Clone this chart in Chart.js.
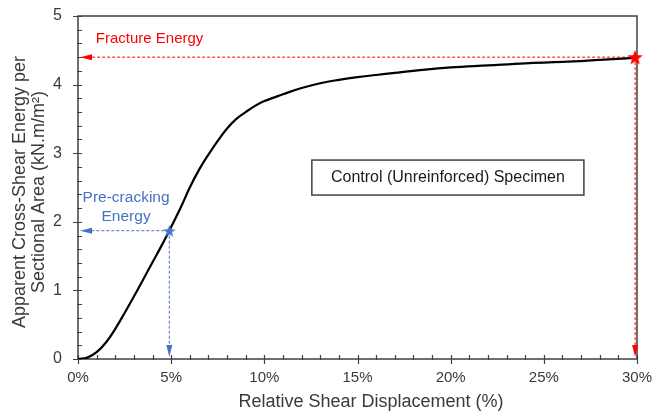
<!DOCTYPE html>
<html>
<head>
<meta charset="utf-8">
<script src="https://cdn.jsdelivr.net/npm/chart.js@4"></script>
<style>
  html, body { margin: 0; padding: 0; background: #fff; }
  canvas { display: block; }
</style>
</head>
<body>
<canvas id="chart" width="654" height="414"></canvas>
<script>
// Relative shear displacement (%) and apparent cross-shear energy (kN.m/m²)
const displacement = [0, 0.5, 1, 1.5, 2, 2.5, 3, 3.5, 4, 4.5, 4.9, 5.5, 6, 6.5, 7, 7.5, 8, 8.5, 9, 9.5, 10, 10.5, 11, 12, 13, 14, 15, 16, 17, 18, 20, 22, 24, 26, 28, 29.9];
const energy = [0, 0.02, 0.1, 0.24, 0.44, 0.67, 0.91, 1.16, 1.41, 1.66, 1.87, 2.2, 2.5, 2.76, 2.98, 3.18, 3.36, 3.5, 3.6, 3.69, 3.76, 3.81, 3.86, 3.95, 4.02, 4.07, 4.11, 4.14, 4.17, 4.2, 4.25, 4.28, 4.31, 4.33, 4.36, 4.39];

// Axis ticks
const xTicks = [0, 5, 10, 15, 20, 25, 30];
const yTicks = [0, 1, 2, 3, 4, 5];
const xMinorStep = 1;
const yMinorStep = 0.2;

// Characteristic energy points
const preCracking = { x: 4.9, y: 1.87 };
const fracture = { x: 29.9, y: 4.4 };

// Text annotations (data units)
const notes = [
  { text: 'Fracture Energy', x: 3.84, y: 4.66, color: '#ff0000', size: 15 },
  { text: 'Pre-cracking', x: 2.58, y: 2.35, color: '#4472c4', size: 15.5 },
  { text: 'Energy', x: 2.58, y: 2.07, color: '#4472c4', size: 15.5 }
];
const specimenLabel = { text: 'Control (Unreinforced) Specimen', x0: 12.55, x1: 27.15, y0: 2.39, y1: 2.9 };

const FONT = '"Liberation Sans", Arial, Helvetica, sans-serif';
const AXIS_COLOR = '#404040';
const TEXT_COLOR = '#3a3a3a';
const RED = '#ff0000';
const BLUE = '#4472c4';

function starSprite(R, color) {
  const s = Math.ceil(R * 2 + 2);
  const c = document.createElement('canvas');
  c.width = c.height = s;
  const g = c.getContext('2d');
  g.translate(s / 2, s / 2 + R * 0.1);
  g.beginPath();
  for (let i = 0; i < 10; i++) {
    const r = i % 2 ? R * 0.42 : R;
    const a = -Math.PI / 2 + i * Math.PI / 5;
    g.lineTo(r * Math.cos(a), r * Math.sin(a));
  }
  g.closePath();
  g.fillStyle = color;
  g.fill();
  return c;
}

function arrowHead(ctx, tipX, tipY, dir, color) {
  const len = 12, half = 3;
  ctx.beginPath();
  if (dir === 'left') {
    ctx.moveTo(tipX, tipY);
    ctx.lineTo(tipX + len, tipY - half);
    ctx.lineTo(tipX + len, tipY + half);
  } else {
    ctx.moveTo(tipX, tipY);
    ctx.lineTo(tipX - half, tipY - len);
    ctx.lineTo(tipX + half, tipY - len);
  }
  ctx.closePath();
  ctx.fillStyle = color;
  ctx.fill();
}

function guide(chart, pt, color) {
  const { ctx, scales: { x, y } } = chart;
  const px = x.getPixelForValue(pt.x);
  const py = y.getPixelForValue(pt.y);
  const leftTip = x.getPixelForValue(0) + 2;
  const bottomTip = y.getPixelForValue(0) - 2;
  ctx.save();
  ctx.strokeStyle = color;
  ctx.lineWidth = 1;
  ctx.setLineDash([3, 2]);
  ctx.beginPath();
  ctx.moveTo(px, py);
  ctx.lineTo(leftTip + 10, py);
  ctx.moveTo(px, py);
  ctx.lineTo(px, bottomTip - 10);
  ctx.stroke();
  ctx.setLineDash([]);
  arrowHead(ctx, leftTip, py, 'left', color);
  arrowHead(ctx, px, bottomTip, 'down', color);
  ctx.restore();
}

const decorations = {
  id: 'decorations',
  beforeDatasetsDraw(chart) {
    const { ctx, chartArea: a, scales: { x, y } } = chart;
    ctx.save();

    // frame
    ctx.strokeStyle = AXIS_COLOR;
    ctx.lineWidth = 1.5;
    ctx.strokeRect(a.left, a.top, a.right - a.left, a.bottom - a.top);

    // major / minor tick marks
    ctx.lineWidth = 1.2;
    ctx.beginPath();
    for (let v = x.min; v <= x.max + 1e-9; v += xMinorStep) {
      const px = Math.round(x.getPixelForValue(v)) + 0.5;
      const major = xTicks.includes(Math.round(v));
      ctx.moveTo(px, a.bottom + (major ? 5 : 1));
      ctx.lineTo(px, a.bottom - 4);
    }
    for (let k = 0; k * yMinorStep <= y.max + 1e-9; k++) {
      const v = k * yMinorStep;
      const py = Math.round(y.getPixelForValue(v)) + 0.5;
      const major = yTicks.some(t => Math.abs(t - v) < 1e-6);
      ctx.moveTo(a.left - (major ? 5 : 1), py);
      ctx.lineTo(a.left + 4, py);
    }
    ctx.stroke();

    // energy guides
    guide(chart, fracture, RED);
    guide(chart, preCracking, BLUE);

    // annotations
    ctx.textAlign = 'center';
    ctx.textBaseline = 'middle';
    notes.forEach(n => {
      ctx.font = n.size + 'px ' + FONT;
      ctx.fillStyle = n.color;
      ctx.fillText(n.text, x.getPixelForValue(n.x), y.getPixelForValue(n.y));
    });

    const bx0 = x.getPixelForValue(specimenLabel.x0), bx1 = x.getPixelForValue(specimenLabel.x1);
    const by0 = y.getPixelForValue(specimenLabel.y1), by1 = y.getPixelForValue(specimenLabel.y0);
    ctx.fillStyle = '#fff';
    ctx.fillRect(bx0, by0, bx1 - bx0, by1 - by0);
    ctx.strokeStyle = AXIS_COLOR;
    ctx.lineWidth = 1.5;
    ctx.strokeRect(bx0, by0, bx1 - bx0, by1 - by0);
    ctx.font = '16px ' + FONT;
    ctx.fillStyle = '#1a1a1a';
    ctx.fillText(specimenLabel.text, (bx0 + bx1) / 2, (by0 + by1) / 2 + 0.5);

    // axis titles
    ctx.fillStyle = TEXT_COLOR;
    ctx.font = '18px ' + FONT;
    ctx.fillText('Relative Shear Displacement (%)', 371, 402);
    ctx.save();
    ctx.translate(20, 192);
    ctx.rotate(-Math.PI / 2);
    ctx.fillText('Apparent Cross-Shear Energy per', 0, 0);
    ctx.fillText('Sectional Area (kN.m/m²)', 0, 19.5);
    ctx.restore();

    ctx.restore();
  }
};

function fixBox(size) {
  return s => {
    if (s.isHorizontal()) s.height = size; else s.width = size;
    s.paddingTop = s.paddingBottom = s.paddingLeft = s.paddingRight = 0;
  };
}

const blueStar = starSprite(6.5, BLUE);
const redStar = starSprite(8, RED);

new Chart(document.getElementById('chart'), {
  type: 'scatter',
  data: {
    datasets: [
      {
        data: displacement.map((v, i) => ({ x: v, y: energy[i] })),
        showLine: true,
        borderColor: '#000',
        borderWidth: 2.2,
        pointRadius: 0,
        tension: 0.4,
        fill: false,
        order: 1
      },
      {
        data: [preCracking, fracture],
        showLine: false,
        pointStyle: [blueStar, redStar],
        pointRadius: 6,
        clip: false,
        order: 0
      }
    ]
  },
  options: {
    responsive: false,
    animation: false,
    events: [],
    layout: { padding: { top: 16, right: 17, left: 0, bottom: 0 } },
    plugins: { legend: { display: false }, tooltip: { enabled: false } },
    scales: {
      x: {
        type: 'linear',
        min: 0,
        max: 30,
        grid: { display: false, drawTicks: false },
        border: { display: false },
        afterBuildTicks: s => { s.ticks = xTicks.map(v => ({ value: v })); },
        afterFit: fixBox(55),
        ticks: {
          padding: 10,
          color: TEXT_COLOR,
          font: { family: FONT, size: 15 },
          callback: v => v + '%'
        }
      },
      y: {
        type: 'linear',
        min: 0,
        max: 5,
        grid: { display: false, drawTicks: false },
        border: { display: false },
        afterBuildTicks: s => { s.ticks = yTicks.map(v => ({ value: v })); },
        afterFit: fixBox(78),
        ticks: {
          padding: 16,
          color: TEXT_COLOR,
          font: { family: FONT, size: 16 }
        }
      }
    }
  },
  plugins: [decorations]
});
</script>
</body>
</html>
